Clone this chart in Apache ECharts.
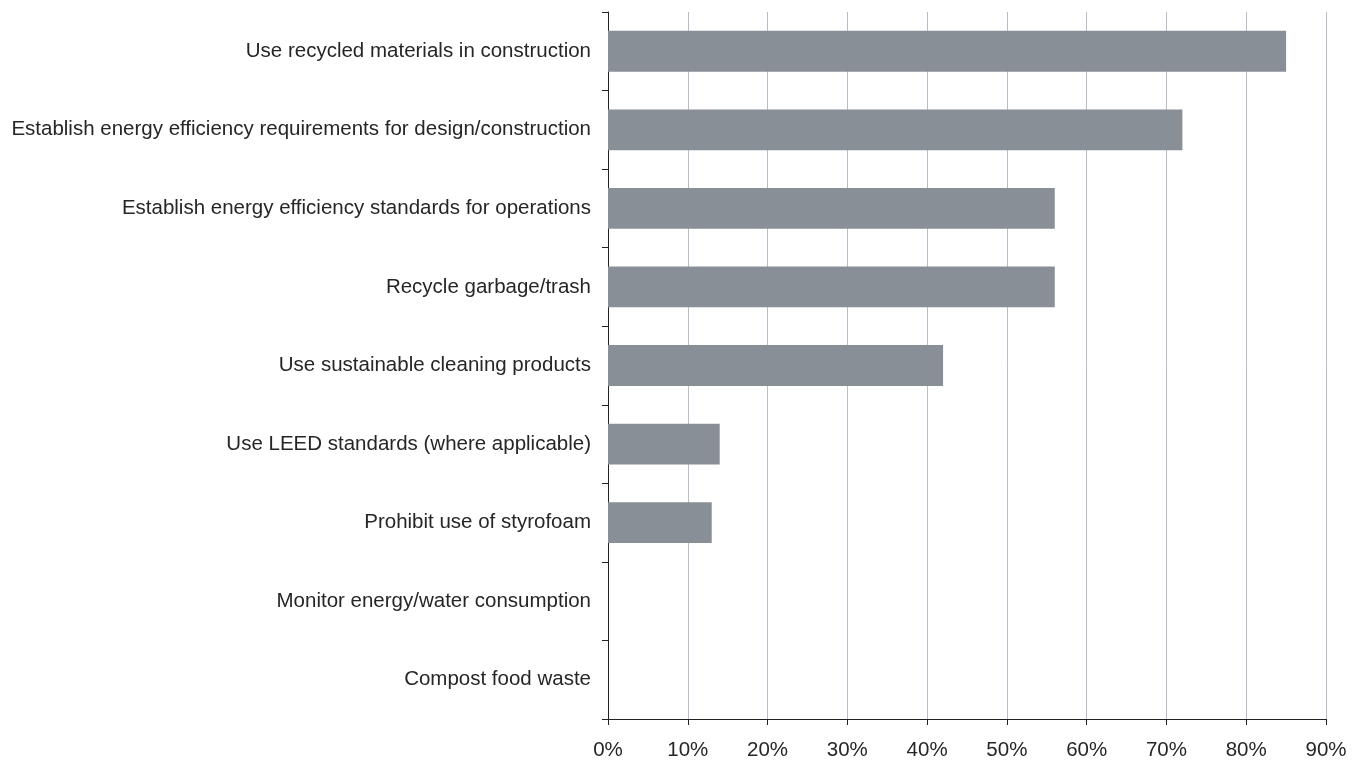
<!DOCTYPE html>
<html>
<head>
<meta charset="utf-8">
<script src="https://cdn.jsdelivr.net/npm/echarts@6/dist/echarts.min.js"></script>
<style>
  html, body { margin: 0; padding: 0; background: #fff; }
  #chart { width: 1361px; height: 761px; }
</style>
</head>
<body>
<div id="chart"></div>
<script>
var categories = [
  'Use recycled materials in construction',
  'Establish energy efficiency requirements for design/construction',
  'Establish energy efficiency standards for operations',
  'Recycle garbage/trash',
  'Use sustainable cleaning products',
  'Use LEED standards (where applicable)',
  'Prohibit use of styrofoam',
  'Monitor energy/water consumption',
  'Compost food waste'
];
var values = [85, 72, 56, 56, 42, 14, 13, 0, 0];

var chart = echarts.init(document.getElementById('chart'));
var option = {
  animation: false,
  grid: {
    left: 608,
    right: 35,
    top: 12,
    bottom: 42,
    containLabel: false
  },
  xAxis: {
    type: 'value',
    min: 0,
    max: 90,
    interval: 10,
    axisLine: { show: true, lineStyle: { color: '#222', width: 1 } },
    axisTick: { show: true, length: 6, lineStyle: { color: '#222' } },
    axisLabel: {
      formatter: '{value}%',
      color: '#262626',
      fontSize: 20.5,
      fontFamily: 'Liberation Sans, Arial, sans-serif',
      margin: 21
    },
    splitLine: { show: true, lineStyle: { color: '#b9bccb', width: 1 } }
  },
  yAxis: {
    type: 'category',
    inverse: true,
    data: categories,
    axisLine: { show: true, lineStyle: { color: '#222', width: 1 } },
    axisTick: { show: true, length: 6, lineStyle: { color: '#222' } },
    axisLabel: {
      color: '#262626',
      fontSize: 20.5,
      fontFamily: 'Liberation Sans, Arial, sans-serif',
      margin: 17
    },
    splitLine: { show: false }
  },
  series: [{
    type: 'bar',
    data: values,
    barWidth: '52%',
    itemStyle: { color: '#898f96' }
  }]
};
chart.setOption(option);
</script>
</body>
</html>
